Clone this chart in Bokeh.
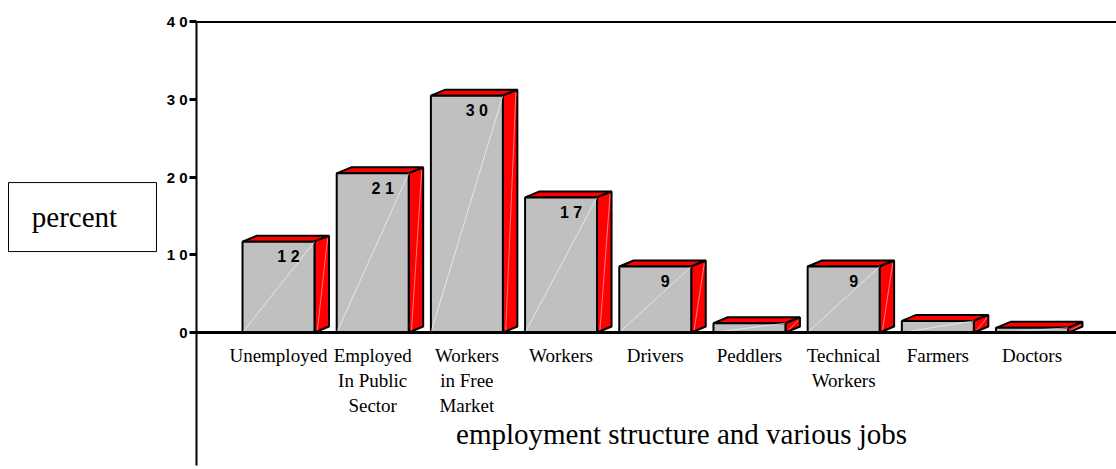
from bokeh.plotting import figure
from bokeh.models import ColumnDataSource, Range1d, FixedTicker, LinearAxis
from bokeh.embed import file_html
from bokeh.resources import INLINE

# ---- data ----
categories = ["Unemployed", "Employed\nIn Public\nSector", "Workers\nin Free\nMarket", "Workers",
              "Drivers", "Peddlers", "Technical\nWorkers", "Farmers", "Doctors"]
values = [11.7, 20.5, 30.5, 17.4, 8.5, 1.2, 8.5, 1.5, 0.6]
value_labels = ["12", "21", "30", "17", "9", "", "9", "", ""]
y_ticks = [0, 10, 20, 30, 40]
y_tick_labels = ["0", "1 0", "2 0", "3 0", "4 0"]
y_title = "percent"
x_title = "employment structure and various jobs"

# ---- geometry (data units) ----
half = 0.382   # half width of front face
dx = 0.154     # 3D depth, horizontal
dy = 0.773     # 3D depth, vertical
x_start, x_end = -2.9515, 8.897
y_start, y_end = -17.64, 42.76
axis_x = -0.8706          # position of the value axis
axis_bottom = -17.1       # lower end of the value-axis line

idx = list(range(len(values)))
left = [i - half for i in idx]
right = [i + half for i in idx]

src_front = ColumnDataSource(dict(left=left, right=right, top=values, bottom=[0] * len(values)))
src_top = ColumnDataSource(dict(
    xs=[[l, l + dx, r + dx, r] for l, r in zip(left, right)],
    ys=[[v, v + dy, v + dy, v] for v in values]))
src_side = ColumnDataSource(dict(
    xs=[[r, r + dx, r + dx, r] for r in right],
    ys=[[0, dy, v + dy, v] for v in values]))
src_lbl = ColumnDataSource(dict(
    x=[i + 0.106 for i, t in zip(idx, value_labels) if t],
    y=[v - 1.89 for v, t in zip(values, value_labels) if t],
    t=[" ".join(t) for t in value_labels if t]))

p = figure(width=1116, height=469, output_backend="svg", toolbar_location=None,
           x_range=Range1d(x_start, x_end), y_range=Range1d(y_start, y_end),
           x_axis_type=None, y_axis_type=None,
           min_border_left=0, min_border_right=0, min_border_top=0, min_border_bottom=0)
p.outline_line_color = None
p.background_fill_color = "white"
p.border_fill_color = "white"

# bars
p.patches("xs", "ys", source=src_top, fill_color="#FF0000", line_color="black", line_width=2)
p.patches("xs", "ys", source=src_side, fill_color="#FF0000", line_color="black", line_width=2)
p.quad(left="left", right="right", top="top", bottom="bottom", source=src_front,
       fill_color="#C0C0C0", line_color="black", line_width=2)
p.segment(x0="left", y0="bottom", x1="right", y1="top", source=src_front,
          line_color="white", line_alpha=0.6, line_width=1)
p.segment(x0=[r + 0.2 * dx for r in right], y0=[0.3 for v in values],
          x1=[r + 0.9 * dx for r in right], y1=[v + 0.5 * dy for v in values],
          line_color="#ff9a9a", line_alpha=0.8, line_width=1)

p.text(x="x", y="y", text="t", source=src_lbl, text_align="center", text_baseline="middle",
       text_font={"value": "Liberation Sans"}, text_font_style="bold", text_font_size="16px",
       text_color="black")

# top frame line
p.segment(x0=[axis_x], y0=[y_ticks[-1]], x1=[x_end], y1=[y_ticks[-1]], line_color="black", line_width=2)

# "percent" box
p.rect(x=[-2.081], y=[14.87], width=148, height=69, width_units="screen", height_units="screen",
       fill_color="white", line_color="black", line_width=1)
p.text(x=[-2.166], y=[14.87], text=[y_title], text_align="center", text_baseline="middle",
       text_font={"value": "Liberation Serif"}, text_font_size="29px", text_color="black")

# category-axis title
p.text(x=[4.279], y=[-13.1], text=[x_title], text_align="center", text_baseline="alphabetic",
       text_font={"value": "Liberation Serif"}, text_font_size="29px", text_color="black")

# y axis
yaxis = LinearAxis(ticker=FixedTicker(ticks=y_ticks, minor_ticks=[]),
                   fixed_location=axis_x, bounds=(axis_bottom, y_ticks[-1]),
                   major_label_overrides={t: l for t, l in zip(y_ticks, y_tick_labels)},
                   axis_line_width=2, axis_line_color="black",
                   major_tick_out=7, major_tick_in=0, major_tick_line_width=3,
                   minor_tick_out=0, minor_tick_in=0,
                   major_label_text_font="Liberation Sans", major_label_text_font_style="bold",
                   major_label_text_font_size="15px", major_label_standoff=2,
                   major_label_text_color="black")
p.add_layout(yaxis, "left")

# x axis
xaxis = LinearAxis(ticker=FixedTicker(ticks=idx, minor_ticks=[]),
                   fixed_location=0, bounds=(axis_x, x_end),
                   major_label_overrides={i: c for i, c in zip(idx, categories)},
                   axis_line_width=3, axis_line_color="black",
                   major_tick_out=0, major_tick_in=0, minor_tick_out=0, minor_tick_in=0,
                   major_label_text_font="Liberation Serif", major_label_text_font_size="19px",
                   major_label_standoff=12, major_label_text_color="black")
p.add_layout(xaxis, "below")

open("out.html", "w").write(file_html(p, INLINE))
